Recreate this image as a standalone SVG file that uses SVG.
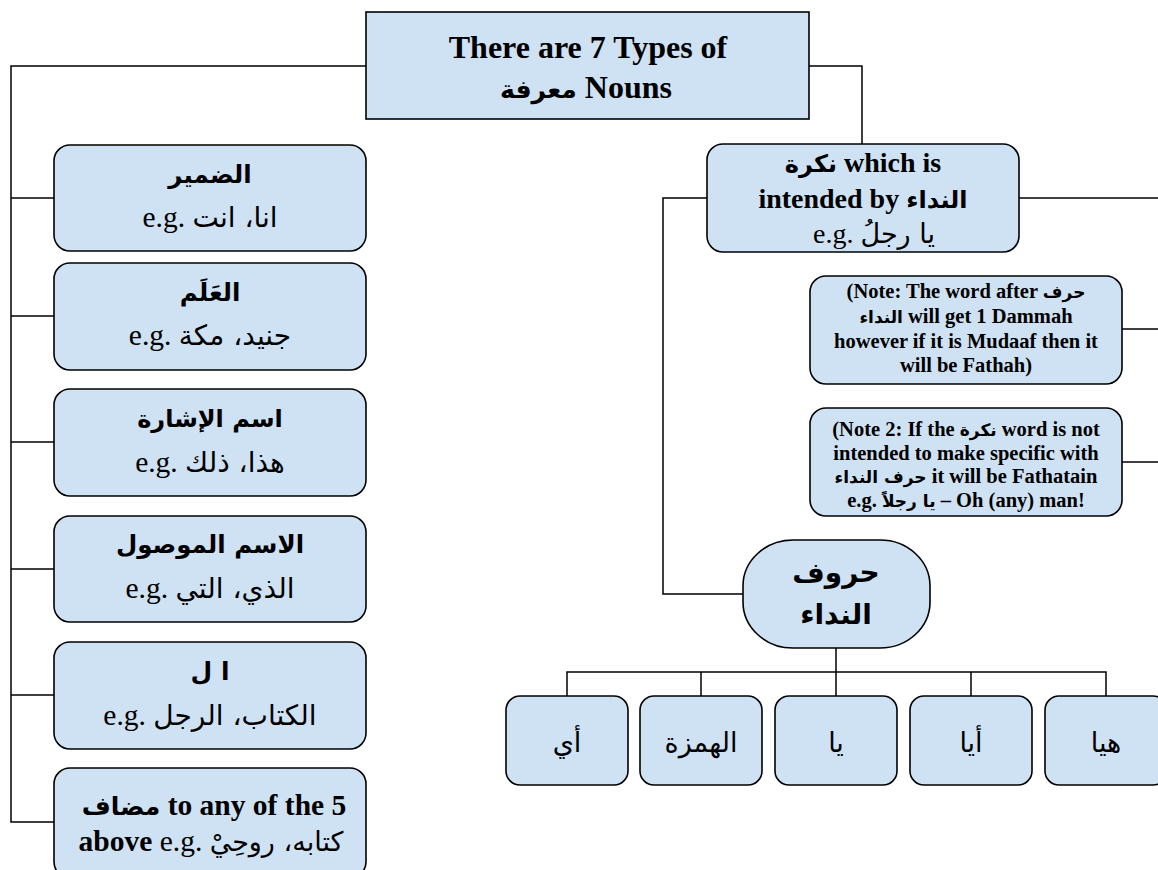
<svg xmlns="http://www.w3.org/2000/svg" width="1158" height="870" viewBox="0 0 1158 870">
<style>
.box{fill:#cfe2f3;stroke:#000;stroke-width:1.6}
.ln{fill:none;stroke:#000;stroke-width:1.5}
text{font-family:'Liberation Serif','DejaVu Sans',serif;fill:#000;text-anchor:middle}
.b{font-weight:bold}
.ar{font-family:'DejaVu Sans','Liberation Sans',sans-serif}
.t32{font-size:32px}
.t28{font-size:28px}
.eg{font-size:29.5px}
.t20{font-size:20.5px}
</style>
<rect width="1158" height="870" fill="#fff"/>
<g id="connectors">
<polyline class="ln" points="366,66 11,66 11,822 54,822"/>
<line class="ln" x1="11" y1="198" x2="54" y2="198"/>
<line class="ln" x1="11" y1="316" x2="54" y2="316"/>
<line class="ln" x1="11" y1="442" x2="54" y2="442"/>
<line class="ln" x1="11" y1="569" x2="54" y2="569"/>
<line class="ln" x1="11" y1="695" x2="54" y2="695"/>
<polyline class="ln" points="809,66 862,66 862,144"/>
<line class="ln" x1="1019" y1="198" x2="1160" y2="198"/>
<polyline class="ln" points="707,198 663,198 663,594 743,594"/>
<line class="ln" x1="1122" y1="329" x2="1160" y2="329"/>
<line class="ln" x1="1122" y1="462" x2="1160" y2="462"/>
<line class="ln" x1="836" y1="648" x2="836" y2="696"/>
<polyline class="ln" points="567,696 567,672 1106,672 1106,696"/>
<line class="ln" x1="701" y1="672" x2="701" y2="696"/>
<line class="ln" x1="971" y1="672" x2="971" y2="696"/>
</g>
<g id="root">
<rect class="box" x="366" y="12" width="443" height="107"/>
<text class="b t32" x="588" y="58">There are 7 Types of</text>
<text class="b t32" x="586" y="98"><tspan class="ar" font-size="25">معرفة</tspan> Nouns</text>
</g>
<g id="damir">
<rect class="box" x="54" y="145" width="312" height="106" rx="16"/>
<text class="b ar" x="210" y="183" font-size="24.5">الضمير</text>
<text class="eg" x="210" y="227">e.g. <tspan class="ar" font-size="28">انا، انت</tspan></text>
</g>
<g id="alam">
<rect class="box" x="54" y="263" width="312" height="107" rx="16"/>
<text class="b ar" x="210" y="301" font-size="24.5">العَلَم</text>
<text class="eg" x="210" y="345">e.g. <tspan class="ar" font-size="28">جنيد، مكة</tspan></text>
</g>
<g id="ishara">
<rect class="box" x="54" y="389" width="312" height="107" rx="16"/>
<text class="b ar" x="210" y="427" font-size="24">اسم الإشارة</text>
<text class="eg" x="210" y="472">e.g. <tspan class="ar" font-size="28">هذا، ذلك</tspan></text>
</g>
<g id="mawsul">
<rect class="box" x="54" y="516" width="312" height="106" rx="16"/>
<text class="b ar" x="210" y="553" font-size="24.5">الاسم الموصول</text>
<text class="eg" x="210" y="598">e.g. <tspan class="ar" font-size="28">الذي، التي</tspan></text>
</g>
<g id="al">
<rect class="box" x="54" y="642" width="312" height="107" rx="16"/>
<text class="b ar" x="210" y="680" font-size="25">ا ل</text>
<text class="eg" x="210" y="725">e.g. <tspan class="ar" font-size="28">الكتاب، الرجل</tspan></text>
</g>
<g id="mudaf">
<rect class="box" x="54" y="768" width="312" height="110" rx="16"/>
<text class="b" x="214" y="815" font-size="29.5"><tspan class="ar" font-size="25">مضاف</tspan> to any of the 5</text>
<text class="eg" x="211" y="851"><tspan class="b">above</tspan> e.g. <tspan class="ar" font-size="27">كتابه، روحِيْ</tspan></text>
</g>
<g id="nakira">
<rect class="box" x="707" y="144" width="312" height="108" rx="16"/>
<text class="b t28" x="863" y="172"><tspan class="ar" font-size="24">نكرة</tspan> which is</text>
<text class="b t28" x="863" y="208">intended by <tspan class="ar" font-size="24">النداء</tspan></text>
<text class="t28" x="874" y="243">e.g. <tspan class="ar" font-size="27">يا رجلُ</tspan></text>
</g>
<g id="note1">
<rect class="box" x="810" y="276" width="312" height="108" rx="16"/>
<text class="b t20" x="966" y="298">(Note: The word after <tspan class="ar" font-size="17">حرف</tspan></text>
<text class="b t20" x="966" y="323"><tspan class="ar" font-size="17">النداء</tspan> will get 1 Dammah</text>
<text class="b t20" x="966" y="348">however if it is Mudaaf then it</text>
<text class="b t20" x="966" y="372">will be Fathah)</text>
</g>
<g id="note2">
<rect class="box" x="810" y="408" width="312" height="108" rx="16"/>
<text class="b t20" x="966" y="436">(Note 2: If the <tspan class="ar" font-size="17">نكرة</tspan> word is not</text>
<text class="b t20" x="966" y="460">intended to make specific with</text>
<text class="b t20" x="966" y="483"><tspan class="ar" font-size="17">حرف النداء</tspan> it will be Fathatain</text>
<text class="b t20" x="966" y="507">e.g. <tspan class="ar" font-size="17">يا رجلاً</tspan> – Oh (any) man!</text>
</g>
<g id="huruf">
<rect class="box" x="743" y="540" width="187" height="108" rx="50" ry="46"/>
<text class="b ar" x="836" y="582" font-size="28">حروف</text>
<text class="b ar" x="836" y="624" font-size="28">النداء</text>
</g>
<g id="ay">
<rect class="box" x="506" y="696" width="122" height="89" rx="14"/>
<text class="ar" x="567" y="752" font-size="27">أي</text>
</g>
<g id="hamza">
<rect class="box" x="640" y="696" width="122" height="89" rx="14"/>
<text class="ar" x="701" y="752" font-size="27">الهمزة</text>
</g>
<g id="ya">
<rect class="box" x="775" y="696" width="122" height="89" rx="14"/>
<text class="ar" x="836" y="752" font-size="27">يا</text>
</g>
<g id="aya">
<rect class="box" x="910" y="696" width="122" height="89" rx="14"/>
<text class="ar" x="971" y="752" font-size="27">أيا</text>
</g>
<g id="haya">
<rect class="box" x="1045" y="696" width="122" height="89" rx="14"/>
<text class="ar" x="1106" y="752" font-size="27">هيا</text>
</g>
</svg>
